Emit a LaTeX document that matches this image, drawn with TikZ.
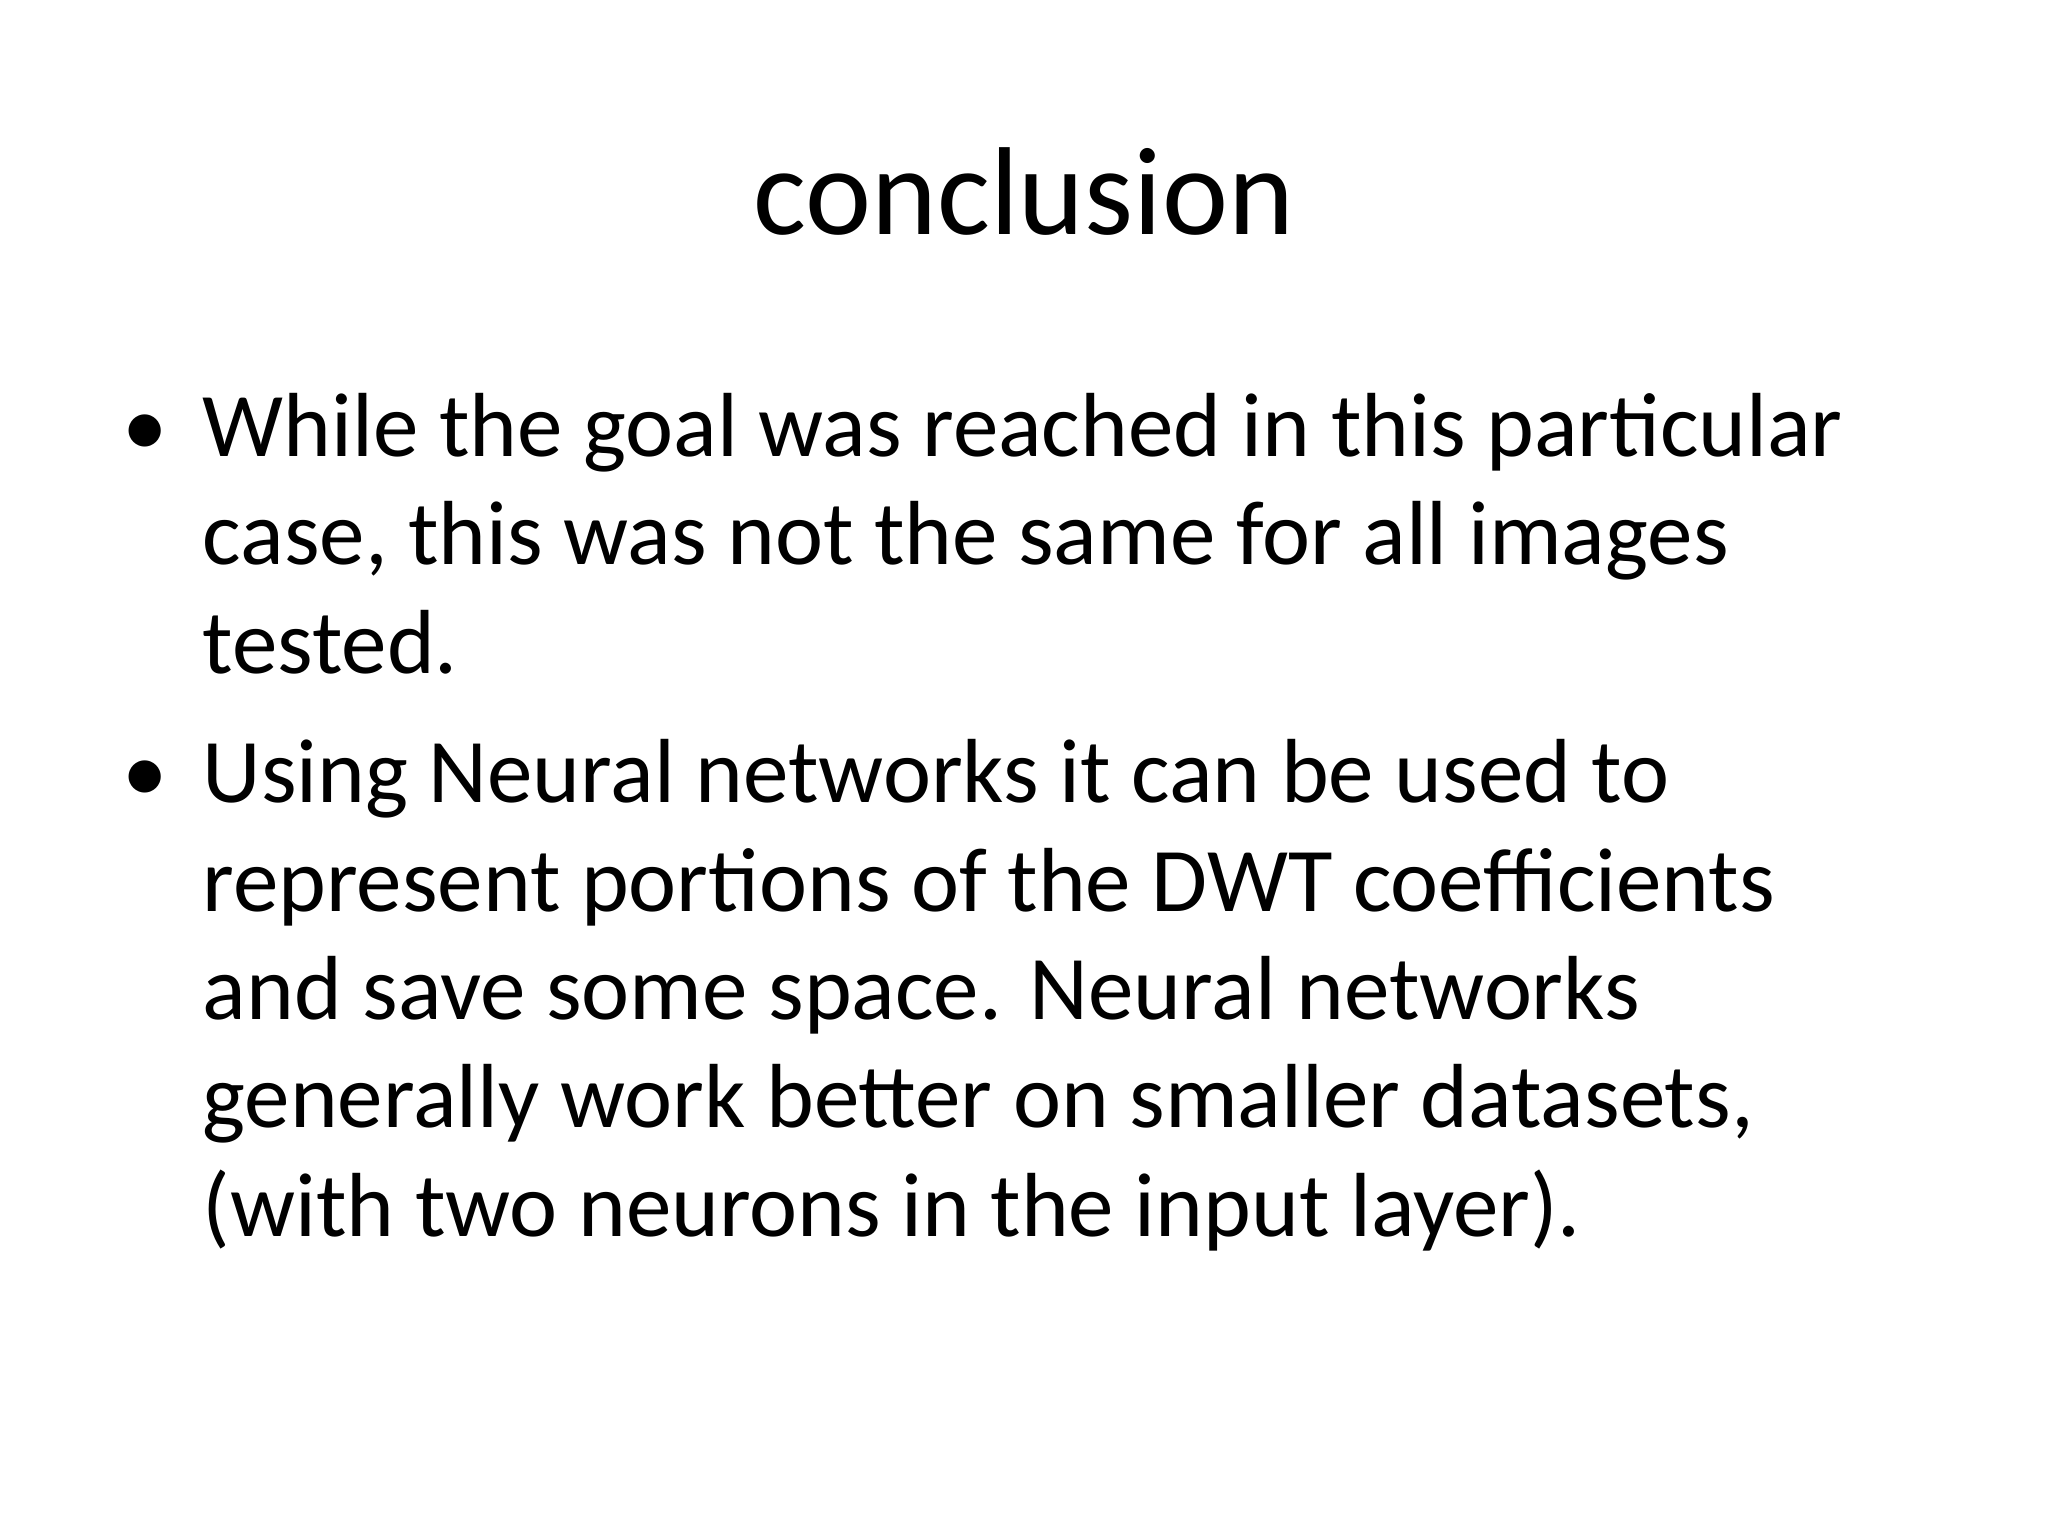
\documentclass[tikz,border=0pt]{standalone}
\usepackage{fontspec}
\setmainfont{Carlito}
\begin{document}
\begin{tikzpicture}[x=1cm,y=1cm,
  body/.style={anchor=base west,inner sep=0pt,font=\fontsize{25.9}{31}\selectfont},
  bul/.style={anchor=base west,inner sep=0pt,font=\fontsize{25.9}{31}\selectfont}]
\fill[white] (0,0) rectangle (20.48,15.36);
\node[anchor=base,inner sep=0pt,font=\fontsize{35.6}{40}\selectfont] (title) at (10.24,15.36-2.35) {conclusion};
\node[bul] (b1) at (1.22,15.36-4.57) {•};
\node[body] (l1) at (2.02,15.36-4.57) {While the goal was reached in this particular};
\node[body] (l2) at (2.02,15.36-5.65) {case, this was not the same for all images};
\node[body] (l3) at (2.02,15.36-6.74) {tested.};
\node[bul] (b2) at (1.22,15.36-8.03) {•};
\node[body] (m1) at (2.02,15.36-8.03) {Using Neural networks it can be used to};
\node[body] (m2) at (2.02,15.36-9.12) {represent portions of the DWT coefficients};
\node[body] (m3) at (2.02,15.36-10.20) {and save some space. Neural networks};
\node[body] (m4) at (2.02,15.36-11.28) {generally work better on smaller datasets,};
\node[body] (m5) at (2.02,15.36-12.37) {(with two neurons in the input layer).};
\end{tikzpicture}
\end{document}
